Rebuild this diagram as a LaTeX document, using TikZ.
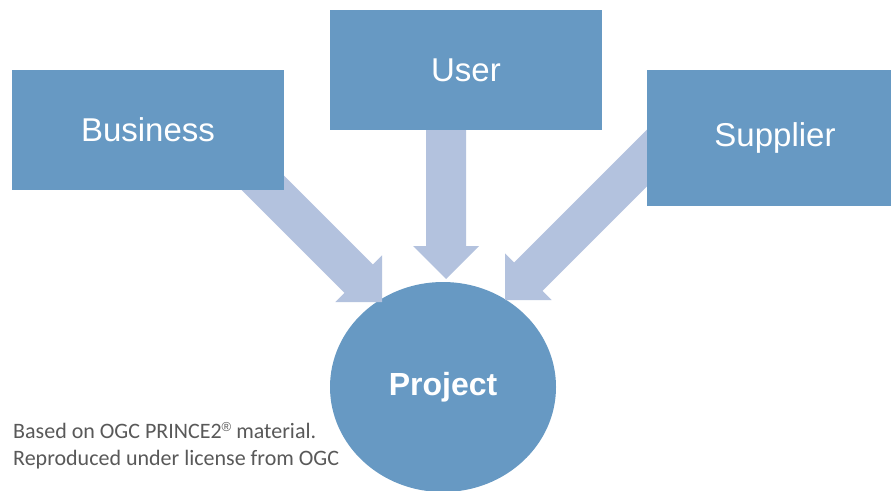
\documentclass[tikz,border=0pt]{standalone}
\usepackage{fontspec}
\setmainfont{Liberation Sans}
\newfontfamily\notefont{Carlito}
\usetikzlibrary{calc,shapes.geometric}
\definecolor{boxblue}{RGB}{103,153,195}
\definecolor{arrowblue}{RGB}{179,194,222}
\definecolor{notegray}{RGB}{89,89,89}
% fat arrow from #1 (start) to #2 (tip)
\newcommand{\fatarrow}[2]{%
  \coordinate (hb) at ($(#2)!33pt!(#1)$);
  \fill[arrowfill] ($(#1)!20pt!90:(#2)$) -- ($(hb)!20pt!-90:(#1)$) -- ($(hb)!33pt!-90:(#1)$)
    -- (#2) -- ($(hb)!33pt!90:(#1)$) -- ($(hb)!20pt!90:(#1)$) -- ($(#1)!20pt!-90:(#2)$) -- cycle;}
\begin{document}
\begin{tikzpicture}[x=1pt,y=-1pt,
  arrowfill/.style={fill=arrowblue},
  rolebox/.style={rectangle,fill=boxblue,inner sep=0pt,text=white,font=\fontsize{33}{40}\selectfont},
  projnode/.style={ellipse,fill=boxblue,inner sep=0pt,text=white,font=\fontsize{32}{38}\selectfont\bfseries},
  note/.style={anchor=base west,inner sep=0pt,text=notegray,font=\notefont\fontsize{22}{27}\selectfont}]
\clip (0,0) rectangle (891,490);
\fill[white] (0,0) rectangle (891,490);
% project
\node[projnode,minimum width=226pt,minimum height=210pt] (project) at (443,387) {Project};
% arrow coordinates
\coordinate (bstart) at (200,120);
\coordinate (btip) at (382,302);
\coordinate (ustart) at (446,70);
\coordinate (utip) at (446,279);
\coordinate (sstart) at (700,105);
\coordinate (stip) at (505,300);
\fatarrow{bstart}{btip}
\fatarrow{ustart}{utip}
\fatarrow{sstart}{stip}
% boxes
\node[rolebox,minimum width=272pt,minimum height=120pt] (business) at (148,130) {Business};
\node[rolebox,minimum width=272pt,minimum height=120pt] (user) at (466,70) {User};
\node[rolebox,minimum width=256pt,minimum height=136pt] (supplier) at (775,138) {Supplier};
% note
\node[note] (note1) at (13,438) {Based on OGC PRINCE2\raisebox{7pt}{\rmfamily\fontsize{13}{13}\selectfont ®} material.};
\node[note] (note2) at (13,465) {Reproduced under license from OGC};
\end{tikzpicture}
\end{document}
